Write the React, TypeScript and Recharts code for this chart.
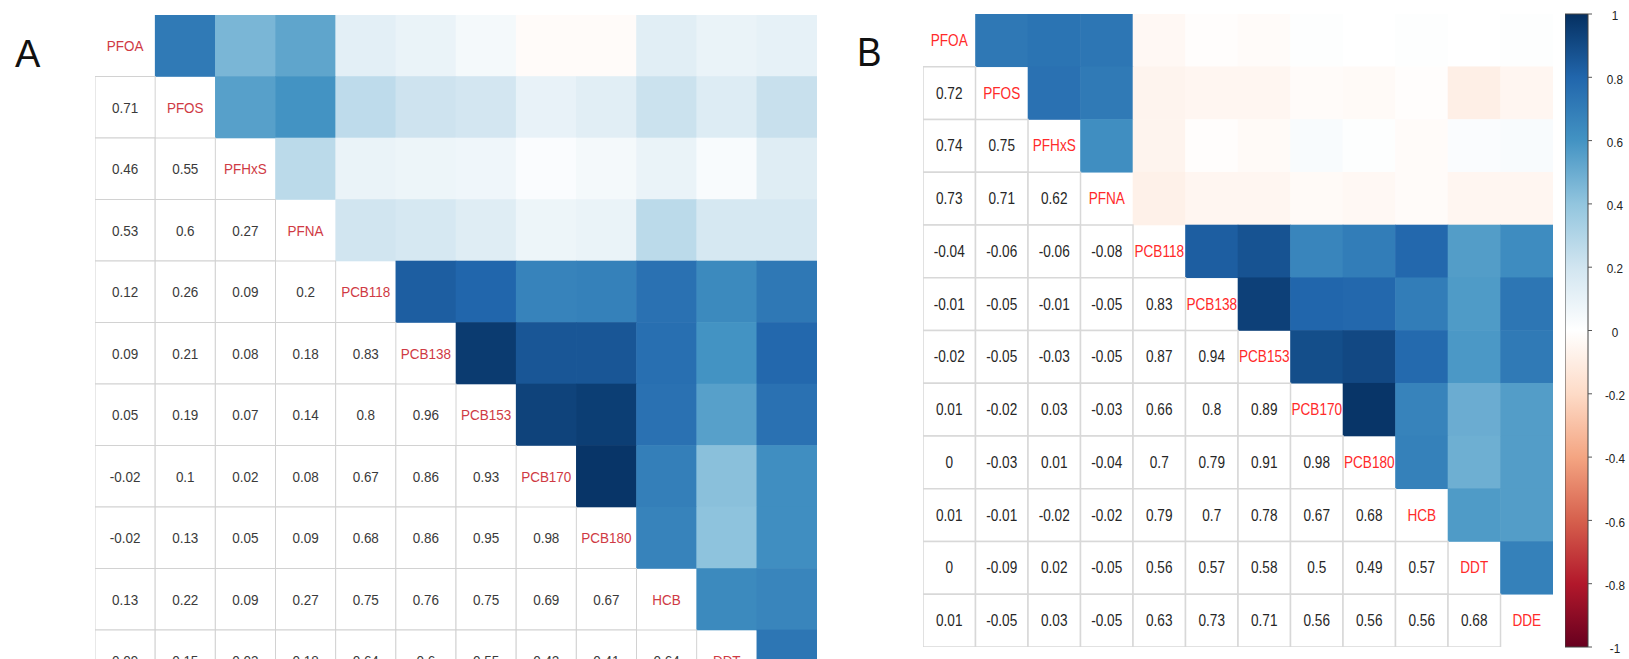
import React from "react";
import { ScatterChart, Scatter, XAxis, YAxis, BarChart, Bar } from "recharts";

const VARS = ["PFOA", "PFOS", "PFHxS", "PFNA", "PCB118", "PCB138", "PCB153", "PCB170", "PCB180", "HCB", "DDT", "DDE"];

// lower triangles, row i holds r(i, 0..i-1)
const LOWER_A: number[][] = [
  [],
  [0.71],
  [0.46, 0.55],
  [0.53, 0.6, 0.27],
  [0.12, 0.26, 0.09, 0.2],
  [0.09, 0.21, 0.08, 0.18, 0.83],
  [0.05, 0.19, 0.07, 0.14, 0.8, 0.96],
  [-0.02, 0.1, 0.02, 0.08, 0.67, 0.86, 0.93],
  [-0.02, 0.13, 0.05, 0.09, 0.68, 0.86, 0.95, 0.98],
  [0.13, 0.22, 0.09, 0.27, 0.75, 0.76, 0.75, 0.69, 0.67],
  [0.09, 0.15, 0.03, 0.18, 0.64, 0.6, 0.55, 0.42, 0.41, 0.64],
  [0.11, 0.23, 0.14, 0.18, 0.72, 0.79, 0.75, 0.62, 0.62, 0.66, 0.73],
];

const LOWER_B: number[][] = [
  [],
  [0.72],
  [0.74, 0.75],
  [0.73, 0.71, 0.62],
  [-0.04, -0.06, -0.06, -0.08],
  [-0.01, -0.05, -0.01, -0.05, 0.83],
  [-0.02, -0.05, -0.03, -0.05, 0.87, 0.94],
  [0.01, -0.02, 0.03, -0.03, 0.66, 0.8, 0.89],
  [0, -0.03, 0.01, -0.04, 0.7, 0.79, 0.91, 0.98],
  [0.01, -0.01, -0.02, -0.02, 0.79, 0.7, 0.78, 0.67, 0.68],
  [0, -0.09, 0.02, -0.05, 0.56, 0.57, 0.58, 0.5, 0.49, 0.57],
  [0.01, -0.05, 0.03, -0.05, 0.63, 0.73, 0.71, 0.56, 0.56, 0.56, 0.68],
];

const COLORBAR_TICKS = [-1, -0.8, -0.6, -0.4, -0.2, 0, 0.2, 0.4, 0.6, 0.8, 1];

// corrplot's RdBu ramp, from -1 to 1
const RDBU = ["#67001F", "#B2182B", "#D6604D", "#F4A582", "#FDDBC7", "#FFFFFF", "#D1E5F0", "#92C5DE", "#4393C3", "#2166AC", "#053061"];

const FONT = '"Liberation Sans", Arial, Helvetica, sans-serif';
const N = VARS.length;

function hexToRgb(h: string) {
  const n = parseInt(h.slice(1), 16);
  return [(n >> 16) & 255, (n >> 8) & 255, n & 255];
}

function corrColor(v: number) {
  const t = ((v + 1) / 2) * (RDBU.length - 1);
  const k = Math.min(Math.floor(t), RDBU.length - 2);
  const f = t - k;
  const a = hexToRgb(RDBU[k]);
  const b = hexToRgb(RDBU[k + 1]);
  const c = a.map((x, i) => Math.round(x + (b[i] - x) * f));
  return `rgb(${c[0]},${c[1]},${c[2]})`;
}

const fmt = (v: number) => String(Number(v.toFixed(2)));

type CellPt = { x: number; y: number; v: number; label: string };

function buildCells(lower: number[][]) {
  const val = (i: number, j: number) => (i === j ? 1 : i > j ? lower[i][j] : lower[j][i]);
  const upper: CellPt[] = [];
  const low: CellPt[] = [];
  const diag: CellPt[] = [];
  for (let i = 0; i < N; i++) {
    for (let j = 0; j < N; j++) {
      const p = { x: j + 0.5, y: i + 0.5, v: val(i, j), label: VARS[i] };
      if (i < j) upper.push(p);
      else if (i > j) low.push(p);
      else diag.push(p);
    }
  }
  return { upper, low, diag };
}

type PanelStyle = {
  width: number;
  height: number;
  fontSize: number;
  squeeze: number;
  numColor: string;
  labelColor: string;
  gridColor: string;
  gridWidth: number;
};

function CorrPanel({ lower, s }: { lower: number[][]; s: PanelStyle }) {
  const { upper, low, diag } = buildCells(lower);
  const cw = s.width / N;
  const ch = s.height / N;

  const colorCell = (p: any) => (
    <rect
      x={p.cx - cw / 2 - 0.3}
      y={p.cy - ch / 2 - 0.3}
      width={cw + 0.6}
      height={ch + 0.6}
      fill={corrColor(p.payload.v)}
    />
  );

  const numberCell = (p: any) => (
    <g>
      <rect x={p.cx - cw / 2} y={p.cy - ch / 2} width={cw} height={ch} fill="#fff" stroke={s.gridColor} strokeWidth={s.gridWidth} />
      <text
        transform={`translate(${p.cx},${p.cy}) scale(${s.squeeze},1)`}
        textAnchor="middle"
        dominantBaseline="central"
        fontFamily={FONT}
        fontSize={s.fontSize}
        fill={s.numColor}
      >
        {fmt(p.payload.v)}
      </text>
    </g>
  );

  const labelCell = (p: any) => (
    <text
      transform={`translate(${p.cx},${p.cy}) scale(${s.squeeze},1)`}
      textAnchor="middle"
      dominantBaseline="central"
      fontFamily={FONT}
      fontSize={s.fontSize}
      fill={s.labelColor}
    >
      {p.payload.label}
    </text>
  );

  return (
    <ScatterChart width={s.width} height={s.height} margin={{ top: 0, right: 0, bottom: 0, left: 0 }}>
      <XAxis type="number" dataKey="x" domain={[0, N]} hide />
      <YAxis type="number" dataKey="y" domain={[0, N]} reversed hide />
      <Scatter data={upper} shape={colorCell} isAnimationActive={false} />
      <Scatter data={low} shape={numberCell} isAnimationActive={false} />
      <Scatter data={diag} shape={labelCell} isAnimationActive={false} />
    </ScatterChart>
  );
}

function ColorBar() {
  const data = [{ name: "r", range: [-1, 1] }];
  const tick = (p: any) => (
    <text
      transform={`translate(${p.x + 21},${p.y + 2}) scale(0.9,1)`}
      textAnchor="middle"
      dominantBaseline="central"
      fontFamily={FONT}
      fontSize={13}
      fill="#222"
    >
      {fmt(p.payload.value)}
    </text>
  );
  return (
    <BarChart width={70} height={653} data={data} margin={{ top: 10, right: 0, bottom: 10, left: 0 }} barCategoryGap={0}>
      <defs>
        <linearGradient id="rdbu" x1="0" y1="1" x2="0" y2="0">
          {RDBU.map((c, i) => (
            <stop key={i} offset={`${(i / (RDBU.length - 1)) * 100}%`} stopColor={c} />
          ))}
        </linearGradient>
      </defs>
      <XAxis dataKey="name" hide />
      <YAxis
        orientation="right"
        type="number"
        domain={[-1, 1]}
        ticks={COLORBAR_TICKS}
        width={47}
        axisLine={false}
        tickLine={{ stroke: "#555" }}
        tickSize={4}
        tick={tick}
        interval={0}
      />
      <Bar dataKey="range" fill="url(#rdbu)" stroke="#444" strokeWidth={1} isAnimationActive={false} />
    </BarChart>
  );
}

const PANEL_A: PanelStyle = {
  width: 722,
  height: 738,
  fontSize: 15.5,
  squeeze: 0.87,
  numColor: "#3a3a3a",
  labelColor: "#cf3a44",
  gridColor: "#d2d2d2",
  gridWidth: 1,
};

const PANEL_B: PanelStyle = {
  width: 630,
  height: 633,
  fontSize: 16,
  squeeze: 0.85,
  numColor: "#262626",
  labelColor: "#ff2a2a",
  gridColor: "#d8d8d8",
  gridWidth: 1.5,
};

const letter: React.CSSProperties = {
  position: "absolute",
  fontFamily: FONT,
  color: "#111",
  lineHeight: 1,
};

export default function App() {
  return (
    <div style={{ position: "absolute", left: 0, top: 0, width: 1629, height: 659, overflow: "hidden", background: "#fff" }}>
      <div style={{ ...letter, left: 15, top: 35, fontSize: 38 }}>A</div>
      <div style={{ ...letter, left: 857, top: 32, fontSize: 40, transform: "scaleX(0.92)", transformOrigin: "left" }}>B</div>
      <div style={{ position: "absolute", left: 95, top: 15 }}>
        <CorrPanel lower={LOWER_A} s={PANEL_A} />
      </div>
      <div style={{ position: "absolute", left: 923, top: 14 }}>
        <CorrPanel lower={LOWER_B} s={PANEL_B} />
      </div>
      <div style={{ position: "absolute", left: 1565, top: 4 }}>
        <ColorBar />
      </div>
    </div>
  );
}
